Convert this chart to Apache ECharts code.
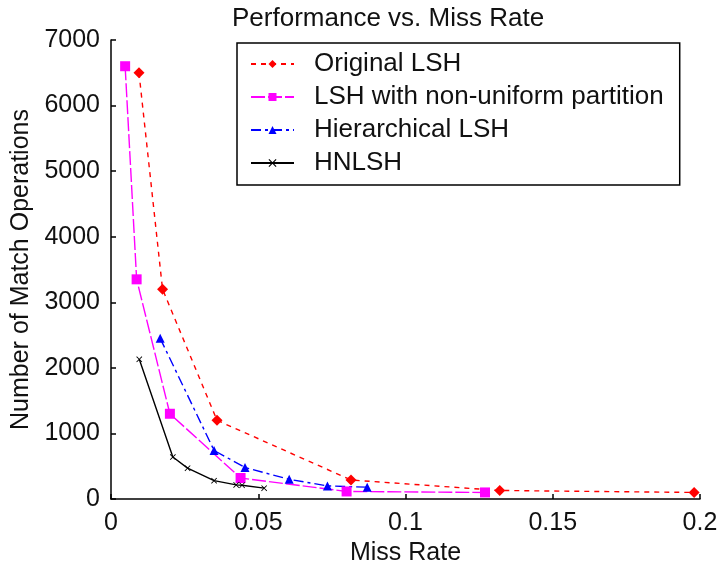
<!DOCTYPE html>
<html>
	<head>
		<meta charset="utf-8" />
    <title>Performance vs. Miss Rate</title>
    <style>
      html,body{margin:0;padding:0;background:#fff;}
      #chartBox{width:718px;height:563px;}
    </style>
	</head>
	<body>
    <div id="chartBox"></div>
  </body>
	<script src="https://cdn.jsdelivr.net/npm/echarts@6/dist/echarts.min.js"></script>
  <script>
    // 各曲线数据 [miss rate, match operations]
    var originalLSH = [[0.0095,6500],[0.0175,3200],[0.036,1200],[0.0815,290],[0.132,130],[0.198,100]];
    var nonUniformLSH = [[0.0048,6600],[0.0087,3350],[0.020,1300],[0.044,320],[0.080,115],[0.127,100]];
    var hierLSH = [[0.0167,2450],[0.035,740],[0.0455,480],[0.0605,300],[0.0735,200],[0.087,180]];
    var hnlsh = [[0.0096,2130],[0.021,640],[0.026,470],[0.035,280],[0.0425,215],[0.0445,210],[0.052,165]];
    var seriesNames = ["Original LSH","LSH with non-uniform partition","Hierarchical LSH","HNLSH"];
    var xTicks = ["0","0.05","0.1","0.15","0.2"];
    var yTicks = [0,1000,2000,3000,4000,5000,6000,7000];

    var _font = "'Liberation Sans', Arial, sans-serif";
    var _fontSize = 25;
    var _txt = '#111';
    var crossPath = 'path://M0,1L1,0L5,4L9,0L10,1L6,5L10,9L9,10L5,6L1,10L0,9L4,5Z';

    function makeSeries(name, data, color, symbol, size, dash){
        return {
            name: name,
            type: 'line',
            data: data,
            symbol: symbol,
            symbolSize: size,
            showSymbol: true,
            animation: false,
            lineStyle: { color: color, width: 1.4, type: dash },
            itemStyle: { color: color },
            emphasis: { disabled: true }
        };
    }

    var myChart = echarts.init(document.getElementById('chartBox'));
    var option = {
        backgroundColor: '#fff',
        title: {
            text: 'Performance vs. Miss Rate',
            left: 227,
            top: 1,
            textStyle: { fontFamily: _font, fontSize: 26, fontWeight: 'normal', color: _txt }
        },
        legend: {
            orient: 'vertical',
            left: 237,
            top: 43,
            padding: [8, 16, 9, 13],
            itemGap: 7,
            itemWidth: 43,
            itemHeight: 10,
            borderColor: '#000',
            borderWidth: 1.5,
            borderRadius: 0,
            backgroundColor: '#fff',
            data: seriesNames,
            textStyle: {
                fontFamily: _font, fontSize: 26, color: _txt,
                lineHeight: 25, padding: [0, 0, 0, 15]
            }
        },
        grid: { left: 111, right: 18, top: 40, bottom: 64, outerBoundsMode: 'none', containLabel: false },
        xAxis: {
            type: 'value',
            min: 0, max: 0.2, interval: 0.05,
            name: 'Miss Rate',
            nameLocation: 'middle',
            nameGap: 35,
            nameTextStyle: { fontFamily: _font, fontSize: _fontSize, color: _txt },
            axisLine: { lineStyle: { color: '#000', width: 1.5 } },
            axisTick: { inside: true, length: 5, lineStyle: { color: '#000', width: 1.5 } },
            axisLabel: {
                fontFamily: _font, fontSize: _fontSize, color: _txt, margin: 12,
                formatter: function(v){ return xTicks[Math.round(v / 0.05)]; }
            },
            splitLine: { show: false }
        },
        yAxis: {
            type: 'value',
            min: yTicks[0], max: yTicks[yTicks.length - 1], interval: 1000,
            name: 'Number of Match Operations',
            nameLocation: 'middle',
            nameGap: 75,
            nameRotate: 90,
            nameTextStyle: { fontFamily: _font, fontSize: _fontSize, color: _txt },
            axisLine: { show: true, lineStyle: { color: '#000', width: 1.5 } },
            axisTick: { show: true, inside: true, length: 5, lineStyle: { color: '#000', width: 1.5 } },
            axisLabel: {
                fontFamily: _font, fontSize: _fontSize, color: _txt, margin: 11,
                formatter: function(v){ return String(v); }
            },
            splitLine: { show: false }
        },
        series: [
            makeSeries(seriesNames[0], originalLSH, '#ff0000', 'diamond', 11, [5, 5]),
            makeSeries(seriesNames[1], nonUniformLSH, '#ff00ff', 'rect', 10, [14, 3]),
            makeSeries(seriesNames[2], hierLSH, '#0000ff', 'triangle', 9, [10, 4, 3, 4]),
            makeSeries(seriesNames[3], hnlsh, '#000000', crossPath, 6, 'solid')
        ]
    };
    myChart.setOption(option);
  </script>
  </html>
